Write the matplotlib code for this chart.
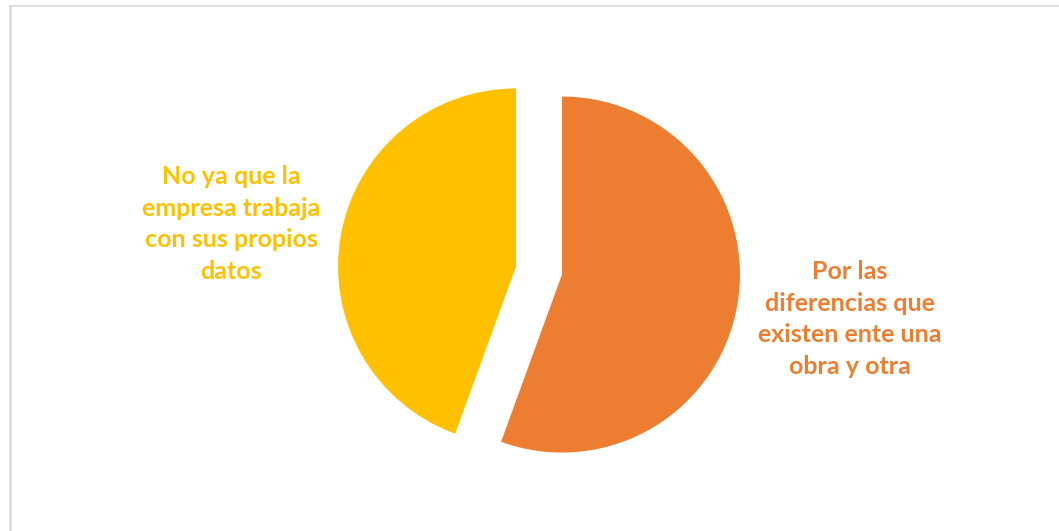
import matplotlib.pyplot as plt
from matplotlib.lines import Line2D

# Survey answers and how many people gave each one
labels = ["Por las\ndiferencias que\nexisten ente una\nobra y otra",
          "No ya que la\nempresa trabaja\ncon sus propios\ndatos"]
counts = [5, 4]
colors = ["#ED7D31", "#FFC000"]

W, H = 1059, 531
fig = plt.figure(figsize=(W / 100, H / 100), dpi=100)
ax = fig.add_axes([0, 0, 1, 1])

# pie in pixel units so it sits where it should on the canvas
# (explode is an absolute offset here, in the same units as radius)
wedges, _ = ax.pie(counts, colors=colors, startangle=90, counterclock=False,
                   explode=[23.3, 23.3], radius=178, center=(539, H - 270.5),
                   frame=True)
ax.set_xlim(0, W)
ax.set_ylim(0, H)
ax.set_aspect("equal")
ax.axis("off")

# category labels beside each slice
ax.text(850, H - 319, labels[0], ha="center", va="center", color=colors[0],
        fontsize=18, fontweight="bold", family="Lato", linespacing=1.45)
ax.text(231, H - 224, labels[1], ha="center", va="center", color=colors[1],
        fontsize=18, fontweight="bold", family="Lato", linespacing=1.45)

# light chart-area border on top and left
fig.add_artist(Line2D([9.5 / W, 1], [1 - 6 / H, 1 - 6 / H], color="#d9d9d9", lw=1.2))
fig.add_artist(Line2D([9.5 / W, 9.5 / W], [0, 1 - 6 / H], color="#d9d9d9", lw=1.8))

fig.savefig("out.png", dpi=100)
